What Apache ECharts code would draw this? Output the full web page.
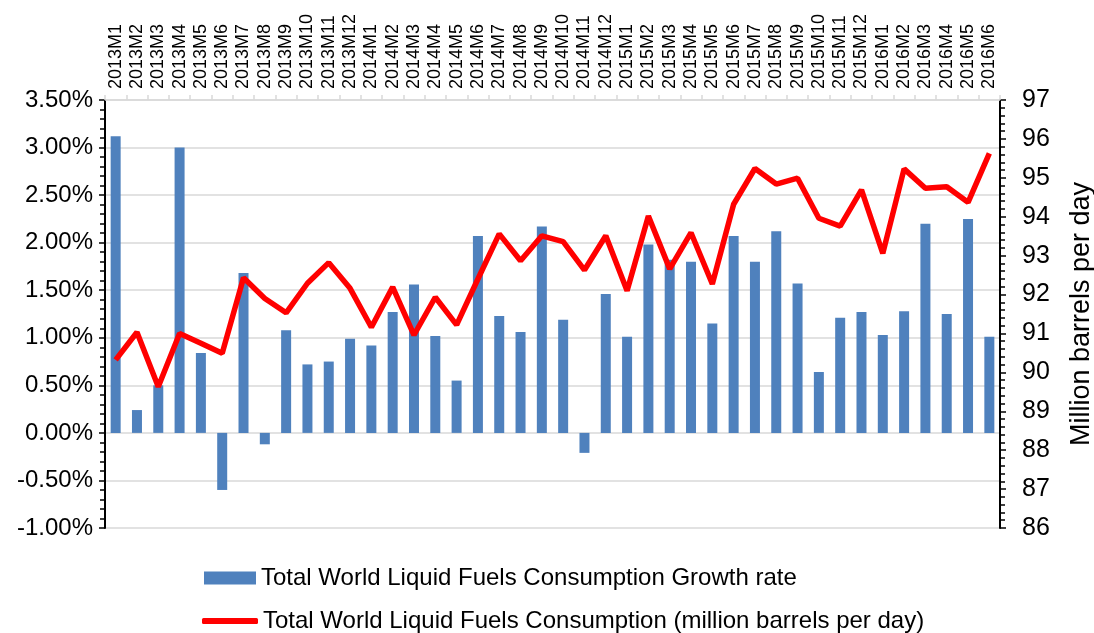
<!DOCTYPE html>
<html>
<head>
<meta charset="utf-8">
<script src="https://cdn.jsdelivr.net/npm/echarts@6/dist/echarts.min.js"></script>
<style>
  html, body { margin: 0; padding: 0; background: #fff; }
  #chart { width: 1094px; height: 633px; }
</style>
</head>
<body>
<div id="chart"></div>
<script>
const categories = [
  '2013M1', '2013M2', '2013M3', '2013M4', '2013M5', '2013M6', '2013M7', '2013M8', '2013M9', '2013M10', '2013M11', '2013M12',
  '2014M1', '2014M2', '2014M3', '2014M4', '2014M5', '2014M6', '2014M7', '2014M8', '2014M9', '2014M10', '2014M11', '2014M12',
  '2015M1', '2015M2', '2015M3', '2015M4', '2015M5', '2015M6', '2015M7', '2015M8', '2015M9', '2015M10', '2015M11', '2015M12',
  '2016M1', '2016M2', '2016M3', '2016M4', '2016M5', '2016M6'
]
// growth rate, in percent
const growthRate = [
  3.12, 0.24, 0.50, 3.00, 0.84, -0.60, 1.68, -0.12, 1.08, 0.72, 0.75, 0.99,
  0.92, 1.27, 1.56, 1.02, 0.55, 2.07, 1.23, 1.06, 2.17, 1.19, -0.21, 1.46,
  1.01, 1.98, 1.82, 1.80, 1.15, 2.07, 1.80, 2.12, 1.57, 0.64, 1.21, 1.27,
  1.03, 1.28, 2.20, 1.25, 2.25, 1.01
]
// million barrels per day
const consumption = [
  90.32, 91.03, 89.63, 91.00, 90.75, 90.49, 92.43, 91.90, 91.53, 92.29, 92.82, 92.16,
  91.16, 92.19, 90.96, 91.93, 91.22, 92.40, 93.56, 92.87, 93.51, 93.36, 92.63, 93.51,
  92.10, 94.02, 92.66, 93.59, 92.27, 94.32, 95.24, 94.84, 94.99, 93.96, 93.76, 94.69,
  93.06, 95.23, 94.73, 94.77, 94.37, 95.63
]
const barName = 'Total World Liquid Fuels Consumption Growth rate'
const lineName = 'Total World Liquid Fuels Consumption (million barrels per day)'

const font = "'Liberation Sans', Arial, sans-serif"
const gridGrey = '#d9d9d9'
const legendText = { fontSize: 24, color: '#000', fontFamily: font }

const option = {
  animation: false,
  textStyle: { fontFamily: font },
  grid: { left: 105, right: 94, top: 100, bottom: 105, outerBoundsMode: 'none' },
  // one legend per row so the rows stack like the original
  legend: [
    {
      left: 204,
      top: 566,
      padding: 0,
      itemWidth: 52,
      itemHeight: 13,
      textStyle: legendText,
      data: [{ name: barName, icon: 'rect' }]
    },
    {
      left: 202,
      top: 609,
      padding: 0,
      itemWidth: 56,
      itemHeight: 6,
      textStyle: legendText,
      data: [{ name: lineName, icon: 'roundRect' }]
    }
  ],
  xAxis: {
    type: 'category',
    position: 'top',
    data: categories,
    boundaryGap: true,
    axisLine: { onZero: false, lineStyle: { color: gridGrey, width: 1.5 } },
    axisTick: { show: true, length: 5, lineStyle: { color: gridGrey, width: 1.5 } },
    axisLabel: { rotate: -90, interval: 0, fontSize: 18, color: '#000', margin: 11, fontFamily: font }
  },
  yAxis: [
    {
      type: 'value',
      min: -1,
      max: 3.5,
      interval: 0.5,
      position: 'left',
      axisLine: { show: true, lineStyle: { color: '#000', width: 2 } },
      axisTick: { show: true, length: 6, lineStyle: { color: '#000', width: 1.5 } },
      minorTick: { show: true, splitNumber: 5, length: 5, lineStyle: { color: '#000', width: 1.5 } },
      splitLine: { lineStyle: { color: gridGrey, width: 1.5 } },
      axisLabel: {
        fontSize: 24, color: '#000', margin: 12, fontFamily: font,
        formatter: v => v.toFixed(2) + '%'
      }
    },
    {
      type: 'value',
      min: 86,
      max: 97,
      interval: 1,
      position: 'right',
      name: 'Million barrels per day',
      nameLocation: 'middle',
      nameRotate: 90,
      nameGap: 68,
      nameTextStyle: { fontSize: 27, color: '#000', fontFamily: font },
      axisLine: { show: true, lineStyle: { color: '#000', width: 2 } },
      axisTick: { show: true, length: 6, lineStyle: { color: '#000', width: 1.5 } },
      minorTick: { show: true, splitNumber: 5, length: 5, lineStyle: { color: '#000', width: 1.5 } },
      splitLine: { show: false },
      axisLabel: { fontSize: 25, color: '#000', margin: 22, fontFamily: font }
    }
  ],
  series: [
    {
      name: barName,
      type: 'bar',
      data: growthRate,
      barWidth: 10,
      itemStyle: { color: '#4f81bd' }
    },
    {
      name: lineName,
      type: 'line',
      yAxisIndex: 1,
      data: consumption,
      symbol: 'none',
      z: 5,
      itemStyle: { color: '#ff0000' },
      lineStyle: { color: '#ff0000', width: 5.5 }
    }
  ]
}

const chart = echarts.init(document.getElementById('chart'))
chart.setOption(option)
</script>
</body>
</html>
